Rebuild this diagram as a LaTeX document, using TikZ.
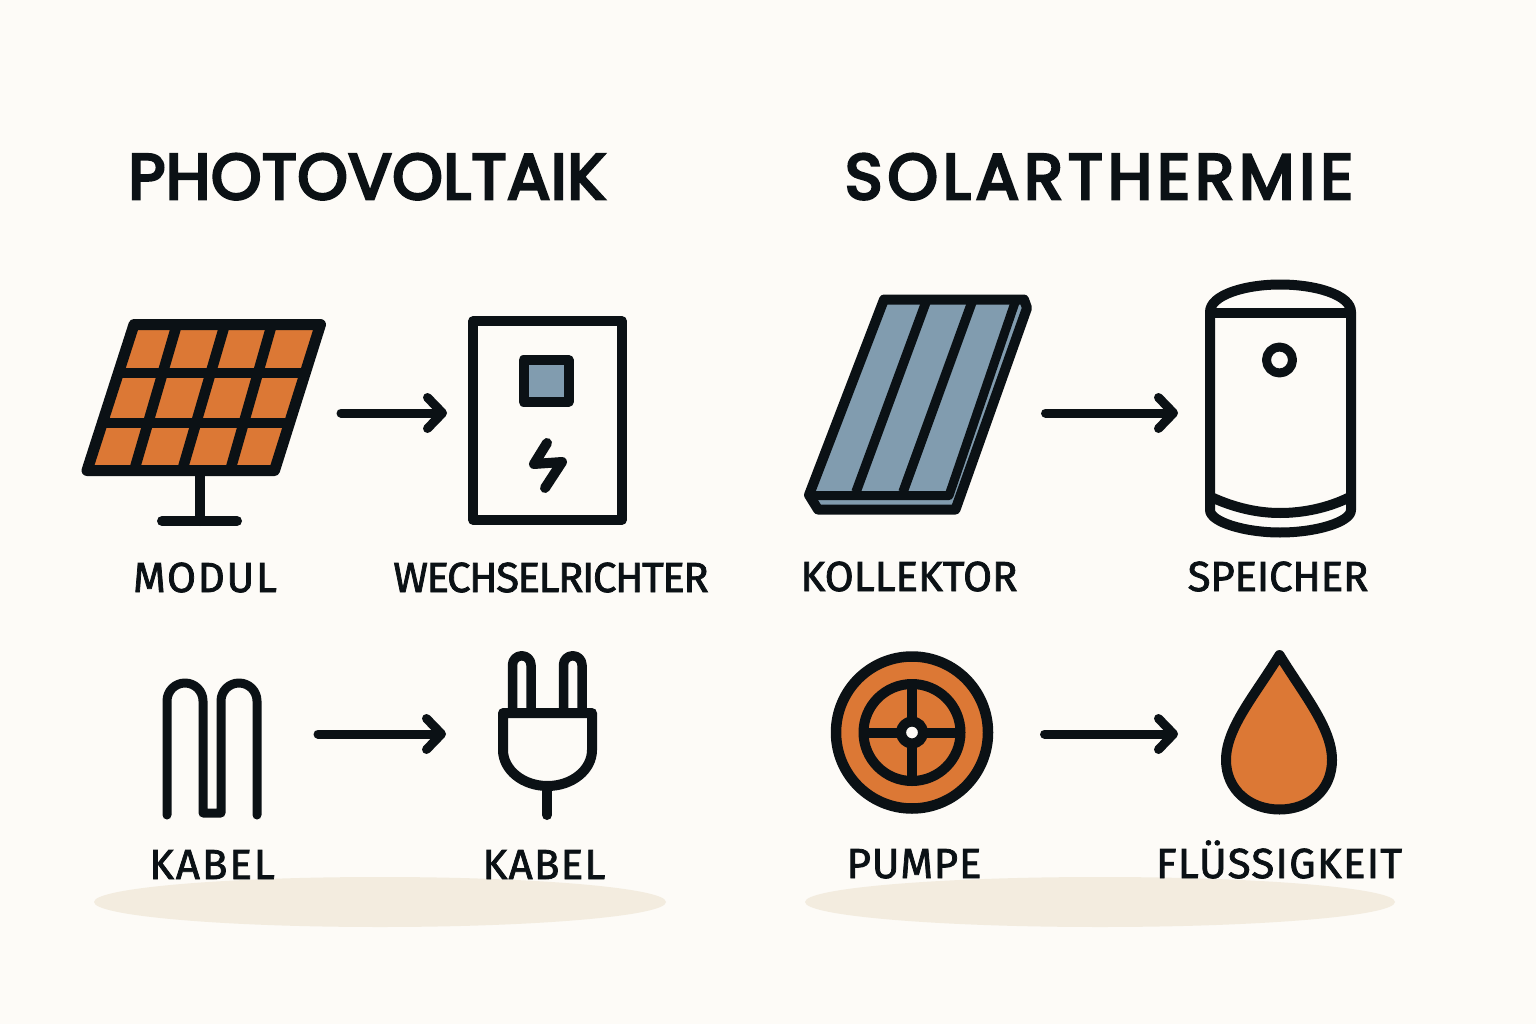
\documentclass[tikz,border=0pt]{standalone}
\usepackage{fontspec}
\usetikzlibrary{arrows.meta}
\setmainfont{Fira Sans}
\newfontfamily\headfont[FakeBold=4.5]{Poppins}
\newfontfamily\capfont[FakeBold=1.8]{Fira Sans}
\definecolor{pagebg}{HTML}{FDFBF7}
\definecolor{groundtone}{HTML}{F3ECDF}
\definecolor{inkdark}{HTML}{0B1115}
\definecolor{solarorange}{HTML}{DC7835}
\definecolor{steelblue}{HTML}{819CAF}
\tikzset{
  iconbox/.style={minimum height=20pt,inner sep=0pt,outer sep=0pt},
  ink/.style={draw=inkdark,line width=10pt,line join=round,line cap=round},
  flow/.style={draw=inkdark,line width=9pt,line cap=round,-{Straight Barb[round,length=15pt,width=31pt]}},
  heading/.style={anchor=base,text=inkdark,inner sep=0pt,font=\headfont\fontsize{64}{64}\selectfont\addfontfeature{LetterSpace=#1}},
  caption/.style={anchor=base,text=inkdark,inner sep=0pt,font=\capfont\fontsize{42}{42}\selectfont\addfontfeature{LetterSpace=#1}},
}
\begin{document}
\begin{tikzpicture}[x=1pt,y=-1pt]
\fill[pagebg] (0,0) rectangle (1536,1024);
\useasboundingbox (0,0) rectangle (1536,1024);
\fill[groundtone] (380,902) ellipse [x radius=286,y radius=25];
\fill[groundtone] (1100,902) ellipse [x radius=295,y radius=25];

\node[heading=1.1] (pvtitle) at (367,199) {PHOTOVOLTAIK};
\node[heading=8] (sttitle) at (1099,199) {SOLARTHERMIE};

\node[iconbox,minimum width=259pt] (modul) at (211.5,413) {};
\node[iconbox,minimum width=180pt] (wechsel) at (537,413) {};
\node[iconbox,minimum width=239pt] (kollektor) at (926,413) {};
\node[iconbox,minimum width=178pt] (speicher) at (1267,413) {};
\node[iconbox,minimum width=153pt] (kabel) at (241.5,734) {};
\node[iconbox,minimum width=150pt] (stecker) at (521,734) {};
\node[iconbox,minimum width=213pt] (pumpe) at (938,734) {};
\node[iconbox,minimum width=100pt] (tropfen) at (1228,734) {};

% modul
\filldraw[ink,line width=11pt,fill=solarorange] (134,324.5) -- (320.5,324.5) -- (274.5,470.5) -- (87,470.5) -- cycle;
\foreach \topx/\botx in {177/134,225/182,272/230}
  \draw[ink,line cap=butt,line width=10.5pt] (\topx,324) -- (\botx,471);
\draw[ink,line cap=butt,line width=10pt] (118,373) -- (305,373);
\draw[ink,line cap=butt,line width=10pt] (102,423) -- (290,423);
\draw[ink] (200,475) -- (200,521);
\draw[ink] (162,521) -- (237,521);

% wechselrichter
\draw[ink,line width=9.5pt] (473,321) rectangle (622,520);
\filldraw[ink,fill=steelblue] (523.5,360) rectangle (568.5,401.5);
\draw[ink] (547,443) -- (534,464) -- (562,462) -- (545,488);

% kollektor
\filldraw[ink,fill=steelblue] (884,299.5) -- (1024,299.5) -- (1027,308) -- (955.5,509.5) -- (818,509.5) -- (809,495) -- cycle;
\draw[ink,line cap=butt,line width=9pt] (809,495.5) -- (949,495.5) -- (1016,299.5);
\draw[ink,line cap=butt,line width=9.5pt] (926,302) -- (856,492);
\draw[ink,line cap=butt,line width=9.5pt] (972,302) -- (903,492);

% speicher
\draw[ink] (1210,312) .. controls (1210,295) and (1245,284.5) .. (1280,284.5) .. controls (1316,284.5) and (1351,295) .. (1351,312) -- (1351,510) .. controls (1351,522) and (1316,532.5) .. (1280,532.5) .. controls (1245,532.5) and (1210,522) .. (1210,510) -- cycle;
\draw[ink,line cap=butt] (1210,313) -- (1351,313);
\draw[ink,line cap=butt] (1211,497) .. controls (1235,508) and (1258,513) .. (1280,513) .. controls (1303,513) and (1328,508) .. (1350,497);
\draw[ink,line width=9pt] (1279.5,360) circle (13);

% kabel
\draw[ink,line width=9pt] (167,815) -- (167,701) arc [start angle=180,end angle=360,radius=18] -- (203,813) -- (221,813) -- (221,701) arc [start angle=180,end angle=360,radius=18] -- (257,815);

% stecker
\draw[ink,line width=9.5pt] (512.5,710) -- (512.5,665) arc [start angle=180,end angle=360,radius=9.25] -- (531,710);
\draw[ink,line width=9.5pt] (563.5,710) -- (563.5,665) arc [start angle=180,end angle=360,radius=9.25] -- (582,710);
\draw[ink] (503,713) -- (592,713) -- (592,750) arc [start angle=0,end angle=180,x radius=44.5,y radius=36] -- cycle;
\draw[ink] (547,786) -- (547,815);

% pumpe
\filldraw[ink,line width=10.5pt,fill=solarorange] (912,732.5) circle (76);
\draw[ink] (912,732.5) circle (48.5);
\draw[ink,line cap=butt] (864,732.5) -- (960,732.5);
\draw[ink,line cap=butt] (912,684) -- (912,781);
\filldraw[ink,fill=pagebg] (912,732.5) circle (11);

% tropfen
\filldraw[ink,fill=solarorange] (1279.5,655) .. controls (1255,695) and (1226,728) .. (1226,760) .. controls (1226,790) and (1250,809.5) .. (1279.5,809.5) .. controls (1309,809.5) and (1332,790) .. (1332,760) .. controls (1332,728) and (1304,695) .. (1279.5,655) -- cycle;

\draw[flow] (modul) -- (wechsel);
\draw[flow] (kollektor) -- (speicher);
\draw[flow] (kabel) -- (stecker);
\draw[flow] (pumpe) -- (tropfen);

\node[caption=4] (modultext) at (205,592) {MODUL};
\node[caption=-3.5] (wechseltext) at (551,592) {WECHSELRICHTER};
\node[caption=0] (kollektortext) at (909,591) {KOLLEKTOR};
\node[caption=-0.5] (speichertext) at (1278,591) {SPEICHER};
\node[caption=4.7] (kabeltext) at (212,879) {KABEL};
\node[caption=3] (steckertext) at (544,879) {KABEL};
\node[caption=1.8] (pumpetext) at (914,878) {PUMPE};
\node[caption=3] (tropfentext) at (1279,878) {FLÜSSIGKEIT};
\end{tikzpicture}
\end{document}
